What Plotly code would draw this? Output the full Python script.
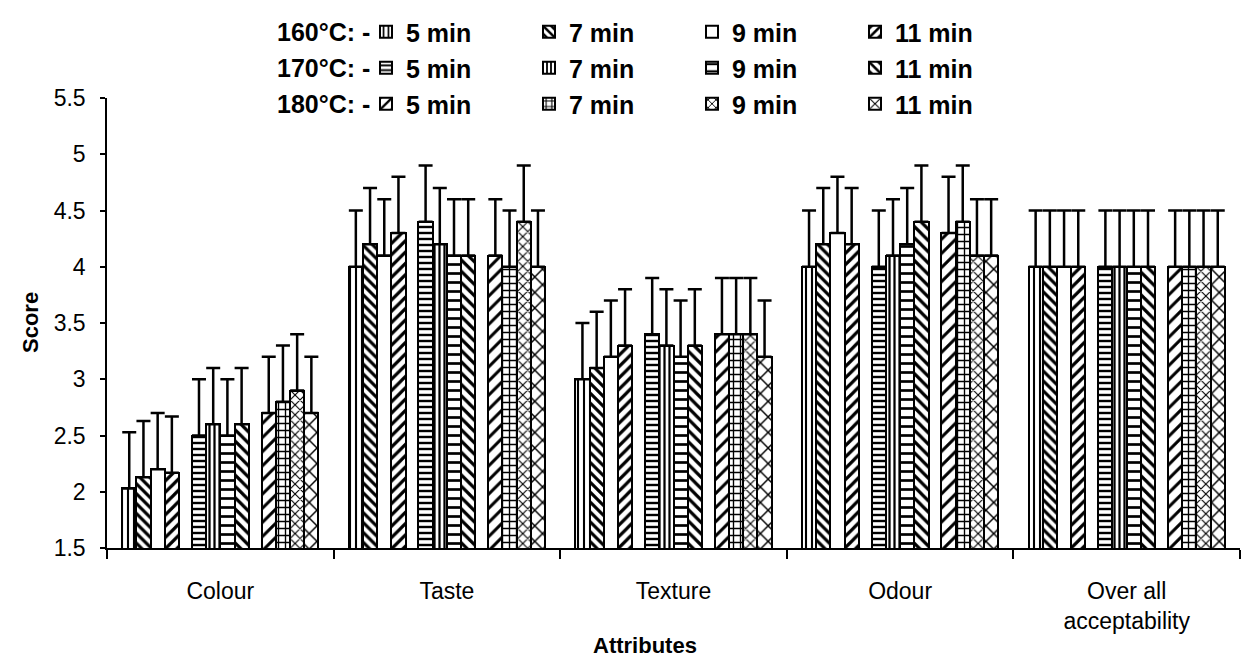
import plotly.graph_objects as go

# ---------------- data ----------------
categories = ["Colour", "Taste", "Texture", "Odour", "Over all<br>acceptability"]
temperatures = ["160°C", "170°C", "180°C"]
times = ["5 min", "7 min", "9 min", "11 min"]

# mean scores: [time][attribute]
scores_160 = [
    [2.03, 4.0, 3.0, 4.0, 4.0],
    [2.13, 4.2, 3.1, 4.2, 4.0],
    [2.20, 4.1, 3.2, 4.3, 4.0],
    [2.17, 4.3, 3.3, 4.2, 4.0],
]
scores_170 = [
    [2.5, 4.4, 3.4, 4.0, 4.0],
    [2.6, 4.2, 3.3, 4.1, 4.0],
    [2.5, 4.1, 3.2, 4.2, 4.0],
    [2.6, 4.1, 3.3, 4.4, 4.0],
]
scores_180 = [
    [2.7, 4.1, 3.4, 4.3, 4.0],
    [2.8, 4.0, 3.4, 4.4, 4.0],
    [2.9, 4.4, 3.4, 4.1, 4.0],
    [2.7, 4.0, 3.2, 4.1, 4.0],
]
# standard deviations (upper error bars)
sd_160 = [[0.5] * 5, [0.5] * 5, [0.5] * 5, [0.5] * 5]
sd_170 = [[0.5] * 5, [0.5] * 5, [0.5] * 5, [0.5] * 5]
sd_180 = [[0.5] * 5, [0.5] * 5, [0.5] * 5, [0.5] * 5]

y_ticks = [1.5, 2, 2.5, 3, 3.5, 4, 4.5, 5, 5.5]

scores = [scores_160, scores_170, scores_180]
sds = [sd_160, sd_170, sd_180]

# ---------------- style ----------------
FONT = "Liberation Sans, Arial, sans-serif"
patterns = [
    [dict(shape="|", size=6, solidity=0.35), dict(shape="\\", size=7, solidity=0.45),
     dict(shape="", size=8, solidity=0.3), dict(shape="/", size=8, solidity=0.4)],
    [dict(shape="-", size=6, solidity=0.4), dict(shape="|", size=5, solidity=0.45),
     dict(shape="-", size=9, solidity=0.3), dict(shape="\\", size=8, solidity=0.4)],
    [dict(shape="/", size=10, solidity=0.3), dict(shape="+", size=7, solidity=0.35),
     dict(shape="x", size=7, solidity=0.3), dict(shape="x", size=11, solidity=0.25)],
]
legend_keys = ["legend", "legend2", "legend3"]
row_y = [32, 68, 104]

W = 0.0627
GAP = 0.057
TOTAL = 12 * W + 2 * GAP

fig = go.Figure()
for t in range(len(temperatures)):
    for k in range(len(times)):
        off = t * (4 * W + GAP) + k * W + W / 2 - TOTAL / 2
        xs = [i + off for i in range(len(categories))]
        pat = dict(fgcolor="black", bgcolor="white", fgopacity=1, **patterns[t][k])
        fig.add_bar(
            x=xs,
            y=scores[t][k],
            width=W,
            name="<b>" + times[k] + "</b>",
            legend=legend_keys[t],
            marker=dict(color="white", line=dict(color="black", width=2), pattern=pat),
            error_y=dict(type="data", array=sds[t][k], arrayminus=[0] * len(categories),
                         symmetric=False, color="black", thickness=2.5, width=7),
        )

L, R, T, B = 107, 6, 98, 124
PW, PH = 1246 - L - R, 672 - T - B

layout_legends = {}
for t, key in enumerate(legend_keys):
    layout_legends[key] = dict(
        orientation="h", xref="container", yref="container",
        x=366 / 1246, y=1 - row_y[t] / 672, xanchor="left", yanchor="middle",
        entrywidth=118, entrywidthmode="pixels",
        font=dict(family=FONT, size=25, color="black"),
        bgcolor="rgba(0,0,0,0)", borderwidth=0, itemclick=False, itemdoubleclick=False,
    )

annotations = []
for t, temp in enumerate(temperatures):
    annotations.append(dict(
        text="<b>" + temp + ": -</b>", xref="paper", yref="paper",
        x=(372 - L) / PW, y=(548 - row_y[t]) / PH, xanchor="right", yanchor="middle",
        showarrow=False, font=dict(family=FONT, size=25, color="black"),
    ))
annotations.append(dict(text="<b>Score</b>", xref="paper", yref="paper",
                        x=(30 - L) / PW, y=0.5, textangle=-90, showarrow=False,
                        xanchor="center", yanchor="middle",
                        font=dict(family=FONT, size=22, color="black")))
annotations.append(dict(text="<b>Attributes</b>", xref="paper", yref="paper",
                        x=(645 - L) / PW, y=(548 - 645) / PH, showarrow=False,
                        xanchor="center", yanchor="middle",
                        font=dict(family=FONT, size=22, color="black")))

fig.update_layout(
    width=1246, height=672,
    margin=dict(l=L, r=R, t=T, b=B, autoexpand=False),
    paper_bgcolor="white", plot_bgcolor="white",
    showlegend=True,
    bargap=0,
    annotations=annotations,
    font=dict(family=FONT, color="black"),
    **layout_legends,
)
fig.update_xaxes(
    range=[-0.5, len(categories) - 0.5],
    tickmode="array", tickvals=list(range(len(categories))), ticktext=categories,
    ticks="", showline=True, linecolor="black", linewidth=1.5,
    showgrid=False, zeroline=False,
    tickfont=dict(family=FONT, size=23, color="black"),
    ticklabelstandoff=22,
    minor=dict(tickmode="array", tickvals=[i - 0.5 for i in range(len(categories) + 1)],
               ticks="outside", ticklen=9, tickcolor="black", tickwidth=1.5, showgrid=False),
)
fig.update_yaxes(
    range=[y_ticks[0], y_ticks[-1]], tickmode="array", tickvals=y_ticks,
    ticks="outside", ticklen=5, tickcolor="black", tickwidth=1.5,
    showline=True, linecolor="black", linewidth=1.5,
    showgrid=False, zeroline=False,
    tickfont=dict(family=FONT, size=23, color="black"),
    ticklabelstandoff=10,
)

fig.write_html("out.html")
